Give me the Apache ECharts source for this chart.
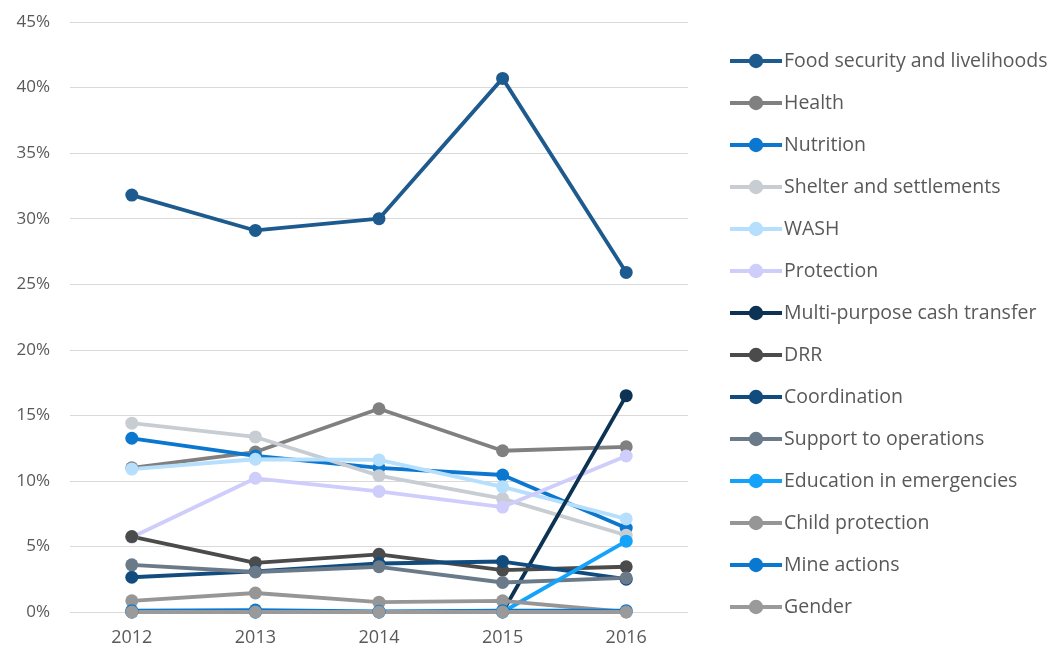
<!DOCTYPE html>
<html>
<head>
<meta charset="utf-8">
<script src="https://cdn.jsdelivr.net/npm/echarts@6/dist/echarts.min.js"></script>
<style>
  html, body { margin: 0; padding: 0; background: #ffffff; }
  #chart { width: 1050px; height: 650px; }
</style>
</head>
<body>
<div id="chart"></div>
<script>
// Share of funding by sector, 2012–2016 (percent)
const years = ['2012', '2013', '2014', '2015', '2016'];

const foodSecurity   = [31.8, 29.1, 30.0, 40.7, 25.9];
const health         = [11.0, 12.2, 15.5, 12.3, 12.6];
const nutrition      = [13.25, 11.9, 11.0, 10.45, 6.4];
const shelter        = [14.4, 13.35, 10.4, 8.65, 5.85];
const wash           = [10.9, 11.65, 11.6, 9.55, 7.1];
const protection     = [5.7, 10.2, 9.2, 8.0, 11.9];
const cashTransfer   = [0, 0, 0, 0, 16.5];
const drr            = [5.75, 3.75, 4.4, 3.2, 3.45];
const coordination   = [2.65, 3.1, 3.7, 3.85, 2.5];
const supportOps     = [3.6, 3.05, 3.45, 2.25, 2.6];
const education      = [0, 0, 0, 0, 5.4];
const childProtect   = [0.85, 1.45, 0.75, 0.85, 0];
const mineActions    = [0.1, 0.15, 0.05, 0.1, 0.1];
const gender         = [0, 0, 0, 0, 0];

const yTicks = { min: 0, max: 45, interval: 5 };

const sectors = [
  { name: 'Food security and livelihoods', data: foodSecurity, color: '#1d5a8e' },
  { name: 'Health', data: health, color: '#808080' },
  { name: 'Nutrition', data: nutrition, color: '#0b77cf' },
  { name: 'Shelter and settlements', data: shelter, color: '#c8cdd3' },
  { name: 'WASH', data: wash, color: '#b5dffc' },
  { name: 'Protection', data: protection, color: '#cecdfb' },
  { name: 'Multi-purpose cash transfer', data: cashTransfer, color: '#0c3354' },
  { name: 'DRR', data: drr, color: '#4b4b4b' },
  { name: 'Coordination', data: coordination, color: '#124b7e' },
  { name: 'Support to operations', data: supportOps, color: '#6b7a89' },
  { name: 'Education in emergencies', data: education, color: '#14a3fb' },
  { name: 'Child protection', data: childProtect, color: '#969696' },
  { name: 'Mine actions', data: mineActions, color: '#0a78d0' },
  { name: 'Gender', data: gender, color: '#9a9a9a' }
];

const chart = echarts.init(document.getElementById('chart'), null, { renderer: 'canvas' });

const textFont = 'Open Sans';

chart.setOption({
  animation: false,
  backgroundColor: '#ffffff',
  grid: { left: 70, right: 362, top: 22, bottom: 38, containLabel: false },
  legend: {
    type: 'plain',
    orient: 'vertical',
    left: 728,
    top: 51,
    padding: 0,
    itemWidth: 52,
    itemHeight: 18,
    itemGap: 22,
    lineStyle: { width: 4 },
    textStyle: { color: '#595959', fontSize: 19.5, lineHeight: 20, fontFamily: textFont, padding: [0, 0, 0, -3] },
    data: sectors.map(s => s.name)
  },
  xAxis: {
    type: 'category',
    data: years,
    boundaryGap: true,
    axisLine: { show: false },
    axisTick: { show: false },
    axisLabel: { color: '#595959', fontSize: 18, fontFamily: textFont, margin: 17 }
  },
  yAxis: {
    type: 'value',
    min: yTicks.min,
    max: yTicks.max,
    interval: yTicks.interval,
    axisLine: { show: false },
    axisTick: { show: false },
    axisLabel: { color: '#595959', fontSize: 17, fontFamily: textFont, margin: 20, formatter: '{value}%' },
    splitLine: { lineStyle: { color: '#d9d9d9', width: 1 } }
  },
  series: sectors.map(s => ({
    name: s.name,
    type: 'line',
    data: s.data,
    symbol: 'circle',
    symbolSize: 13,
    showSymbol: true,
    color: s.color,
    lineStyle: { width: 3.8, color: s.color },
    itemStyle: { color: s.color }
  }))
});
</script>
</body>
</html>
